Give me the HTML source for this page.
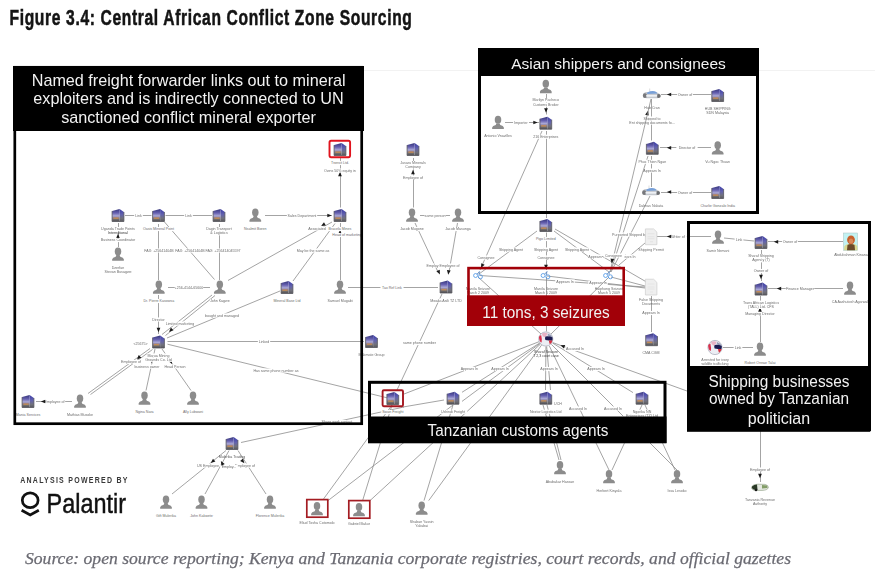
<!DOCTYPE html><html><head><meta charset="utf-8"><style>
html,body{margin:0;padding:0;background:#fff;}
body{width:886px;height:581px;overflow:hidden;position:relative;}
svg{position:absolute;left:0;top:0;filter:blur(0.35px);font-family:"Liberation Sans",sans-serif;}
svg.crisp{filter:none;}
</style></head><body>
<svg width="886" height="581" viewBox="0 0 886 581">
<defs>
<linearGradient id="gf" x1="0" y1="0" x2="0" y2="1">
<stop offset="0" stop-color="#35357a"/><stop offset="0.32" stop-color="#6660b0"/><stop offset="0.55" stop-color="#aaa8d6"/><stop offset="0.68" stop-color="#8c80a0"/><stop offset="0.82" stop-color="#74706e"/><stop offset="1" stop-color="#4c4c54"/></linearGradient>
<linearGradient id="gs" x1="0" y1="0" x2="0" y2="1">
<stop offset="0" stop-color="#3c3ca8"/><stop offset="0.45" stop-color="#6464ae"/><stop offset="0.75" stop-color="#72727c"/><stop offset="1" stop-color="#58585e"/></linearGradient>
<radialGradient id="gg" cx="0.4" cy="0.35" r="0.7">
<stop offset="0" stop-color="#f4f0f4"/><stop offset="1" stop-color="#c8ccd8"/></radialGradient>
<symbol id="person" overflow="visible">
<ellipse cx="0" cy="-2.6" rx="3.25" ry="4" fill="#8c8c8c"/>
<path d="M-5.85,6.8 L-5.85,5.2 Q-5.5,3.3 -2.3,2.7 L-1.6,1.1 L1.6,1.1 L2.3,2.7 Q5.5,3.3 5.85,5.2 L5.85,6.8 Z" fill="#8c8c8c"/>
</symbol>
<symbol id="bld" overflow="visible">
<g transform="translate(0,0.4)"><path d="M-5.9,-4.3 L1.6,-6.4 L1.6,6.1 L-5.9,6.1 Z" fill="url(#gf)"/>
<path d="M1.6,-6.4 L5.9,-3.4 L5.9,6.1 L1.6,6.1 Z" fill="url(#gs)"/>
<path d="M-5.9,-4.3 L-5.9,6.1 L5.9,6.1 L5.9,-3.4" fill="none" stroke="#55555c" stroke-width="0.8"/>
<rect x="-4.6" y="2.0" width="5.2" height="1.5" fill="#d0904a" opacity="0.8"/></g>
</symbol>
<symbol id="ship" overflow="visible">
<path d="M-8.8,1 Q-8.5,-2 -5,-2.4 L5,-2.2 Q8.5,-1 9,1.5 Q8,3.8 4,3.8 L-5,3.8 Q-8.8,3.5 -8.8,1 Z" fill="#c4c8ce"/>
<ellipse cx="-6.8" cy="1.2" rx="2.1" ry="2.4" fill="#5e5e60" opacity="0.75"/>
<ellipse cx="7" cy="1.6" rx="2" ry="2" fill="#505052" opacity="0.75"/>
<path d="M-4.5,-2 Q-1,-4 3,-3.3 Q5,-2.7 5.6,-1 L-4.5,-0.4 Z" fill="#78a0d8"/>
<rect x="-5.5" y="0.4" width="11" height="1.8" fill="#eef0f4"/>
<line x1="-2" y1="-6" x2="-2" y2="-3.5" stroke="#bbb" stroke-width="0.5"/>
</symbol>
<symbol id="doc" overflow="visible">
<path d="M-5.6,-7.8 L2.6,-7.8 L5.9,-4.6 L5.9,8 L-5.6,8 Z" fill="#efefef" stroke="#cfcfcf" stroke-width="0.7"/>
<path d="M-3.5,-3 H3.5 M-3.5,0 H3.5 M-3.5,2 H3.5 M-1,5 H2" stroke="#dadada" stroke-width="0.5"/>
</symbol>
<symbol id="globe" overflow="visible">
<circle cx="0" cy="0" r="7.1" fill="#eceef4" stroke="#a4a6b4" stroke-width="0.7"/>
<path d="M-6.9,-2 Q-6,-4 -4.6,-3.8 Q-3.6,0 -4.2,3.6 Q-6.4,3.2 -6.9,-2 Z" fill="#d8304c"/>
<path d="M-4,-5.6 Q-1,-6.8 1.6,-5.8 Q1.2,-3 -1.5,-1.8 Q-3.6,-2.6 -4,-5.6 Z" fill="#e8a8bc" opacity="0.85"/>
<path d="M2,-5.6 Q5.6,-4.6 6.6,-2 L6,-0.5 Q3,-2.5 1.8,-3.5 Z" fill="#8088a8" opacity="0.8"/>
<path d="M-0.4,-2.4 Q3,-3.2 6.8,-1.4 Q7,1.2 6.2,1.8 Q3,1.4 -0.4,1 Q-1.2,-0.6 -0.4,-2.4 Z" fill="#1c1c52"/>
<path d="M3,1.6 Q5.4,1.6 6.6,1.4 Q6.2,4 4,5.2 Q3.2,3.4 3,1.6 Z" fill="#d83040"/>
</symbol>
<symbol id="seize" overflow="visible">
<circle cx="-2.9" cy="0" r="2" fill="none" stroke="#4a94e4" stroke-width="0.8"/>
<circle cx="1.9" cy="1.3" r="2" fill="none" stroke="#4a94e4" stroke-width="0.8"/>
<path d="M-1.5,-1.3 L1.2,-4 M0.5,-0.6 L0.8,-4" stroke="#4a7ab8" stroke-width="0.8"/>
</symbol>
</defs>

<path d="M364,70.5 H875" stroke="#f2f2f2" stroke-width="1"/>
<line x1="125" y1="215.5" x2="151.5" y2="215.5" stroke="#858585" stroke-width="0.75"/>
<rect x="134.15" y="213.94" width="8.7" height="4.14" fill="#fff"/>
<text x="138.5" y="217" font-size="3.6" fill="#6c6c6c" text-anchor="middle">Link</text>
<line x1="165.5" y1="215.5" x2="212" y2="215.5" stroke="#858585" stroke-width="0.75"/>
<rect x="184.15" y="213.94" width="8.7" height="4.14" fill="#fff"/>
<text x="188.5" y="217" font-size="3.6" fill="#6c6c6c" text-anchor="middle">Link</text>
<line x1="158.5" y1="224" x2="158.5" y2="280" stroke="#858585" stroke-width="0.75"/>
<line x1="164.5" y1="222" x2="214.5" y2="279.5" stroke="#858585" stroke-width="0.75"/>
<line x1="219.5" y1="224" x2="219.5" y2="280" stroke="#858585" stroke-width="0.75"/>
<rect x="144.75" y="248.44" width="28.5" height="4.14" fill="#fff"/>
<text x="159" y="251.5" font-size="3.6" fill="#6c6c6c" text-anchor="middle">FAX: +25641404B</text>
<rect x="175.75" y="248.44" width="28.5" height="4.14" fill="#fff"/>
<text x="190" y="251.5" font-size="3.6" fill="#6c6c6c" text-anchor="middle">FAX: +25641404B</text>
<rect x="206.05" y="248.44" width="33.9" height="4.14" fill="#fff"/>
<text x="223" y="251.5" font-size="3.6" fill="#6c6c6c" text-anchor="middle">FAX: +256414045597</text>
<line x1="168" y1="287.5" x2="210" y2="287.5" stroke="#858585" stroke-width="0.75"/>
<rect x="174.75" y="285.94" width="28.5" height="4.14" fill="#fff"/>
<text x="189" y="289" font-size="3.6" fill="#6c6c6c" text-anchor="middle">+256-4144-65600</text>
<line x1="265" y1="215.5" x2="332" y2="215.5" stroke="#858585" stroke-width="0.75"/>
<rect x="286.85" y="213.94" width="30.3" height="4.14" fill="#fff"/>
<text x="302" y="217" font-size="3.6" fill="#6c6c6c" text-anchor="middle">Sales Department</text>
<path d="M2.2,0 L-2.2,-1.87 L-2.2,1.87 Z" fill="#1a1a1a" transform="translate(329.5,215.5) rotate(0)"/>
<line x1="340.5" y1="158" x2="340.5" y2="207.5" stroke="#858585" stroke-width="0.75"/>
<path d="M2.2,0 L-2.2,-1.87 L-2.2,1.87 Z" fill="#1a1a1a" transform="translate(340,174) rotate(-90)"/>
<rect x="323.05" y="168.44" width="33.9" height="4.14" fill="#fff"/>
<text x="340" y="171.5" font-size="3.6" fill="#6c6c6c" text-anchor="middle">Owns 50% equity in</text>
<line x1="118.5" y1="223" x2="118.5" y2="247" stroke="#858585" stroke-width="0.75"/>
<path d="M2.2,0 L-2.2,-1.87 L-2.2,1.87 Z" fill="#1a1a1a" transform="translate(118,236) rotate(-90)"/>
<rect x="99.25" y="237.94" width="37.5" height="4.14" fill="#fff"/>
<text x="118" y="241" font-size="3.6" fill="#6c6c6c" text-anchor="middle">Business Coordinator</text>
<text x="118" y="234" font-size="3.6" fill="#333" text-anchor="middle">International</text>
<line x1="228" y1="280.5" x2="332" y2="222" stroke="#858585" stroke-width="0.75"/>
<line x1="293" y1="281" x2="335" y2="223.5" stroke="#858585" stroke-width="0.75"/>
<path d="M2.2,0 L-2.2,-1.87 L-2.2,1.87 Z" fill="#1a1a1a" transform="translate(323,225) rotate(150)"/>
<rect x="307.25" y="226.44" width="19.5" height="4.14" fill="#fff"/>
<text x="317" y="229.5" font-size="3.6" fill="#6c6c6c" text-anchor="middle">Associated</text>
<rect x="296.05" y="248.44" width="33.9" height="4.14" fill="#fff"/>
<text x="313" y="251.5" font-size="3.6" fill="#6c6c6c" text-anchor="middle">May be the same as</text>
<line x1="340.5" y1="223" x2="340.5" y2="280" stroke="#858585" stroke-width="0.75"/>
<path d="M2.2,0 L-2.2,-1.87 L-2.2,1.87 Z" fill="#1a1a1a" transform="translate(340,232) rotate(-90)"/>
<rect x="330.95" y="232.94" width="32.1" height="4.14" fill="#fff"/>
<text x="347" y="236" font-size="3.6" fill="#6c6c6c" text-anchor="middle">Head of marketing</text>
<line x1="158.5" y1="295" x2="158.5" y2="334" stroke="#858585" stroke-width="0.75"/>
<path d="M2.2,0 L-2.2,-1.87 L-2.2,1.87 Z" fill="#1a1a1a" transform="translate(158.5,330) rotate(90)"/>
<rect x="150.55" y="317.44" width="15.9" height="4.14" fill="#fff"/>
<text x="158.5" y="320.5" font-size="3.6" fill="#6c6c6c" text-anchor="middle">Director</text>
<line x1="212" y1="295" x2="162" y2="334.5" stroke="#858585" stroke-width="0.75"/>
<line x1="215" y1="295.5" x2="165.5" y2="335.5" stroke="#858585" stroke-width="0.75"/>
<path d="M2.2,0 L-2.2,-1.87 L-2.2,1.87 Z" fill="#1a1a1a" transform="translate(170.6,330.5) rotate(135)"/>
<rect x="163.95" y="321.44" width="32.1" height="4.14" fill="#fff"/>
<text x="180" y="324.5" font-size="3.6" fill="#6c6c6c" text-anchor="middle">Limited marketing</text>
<line x1="88" y1="393.5" x2="150" y2="348.5" stroke="#858585" stroke-width="0.75"/>
<line x1="90.5" y1="394.5" x2="152.5" y2="349.5" stroke="#858585" stroke-width="0.75"/>
<path d="M2.2,0 L-2.2,-1.87 L-2.2,1.87 Z" fill="#1a1a1a" transform="translate(138.5,358) rotate(135)"/>
<rect x="120.35" y="359.94" width="21.3" height="4.14" fill="#fff"/>
<text x="131" y="363" font-size="3.6" fill="#6c6c6c" text-anchor="middle">Employee of</text>
<text x="140.5" y="344.5" font-size="3.6" fill="#6c6c6c" text-anchor="middle">&lt;25675&gt;</text>
<line x1="167" y1="338" x2="280" y2="291" stroke="#858585" stroke-width="0.75"/>
<rect x="205.05" y="313.44" width="33.9" height="4.14" fill="#fff"/>
<text x="222" y="316.5" font-size="3.6" fill="#6c6c6c" text-anchor="middle">bought and managed</text>
<line x1="167.5" y1="341.5" x2="364" y2="341.5" stroke="#858585" stroke-width="0.75"/>
<rect x="257.85" y="339.94" width="12.3" height="4.14" fill="#fff"/>
<text x="264" y="343" font-size="3.6" fill="#6c6c6c" text-anchor="middle">Linked</text>
<line x1="167.5" y1="344.2" x2="392" y2="399" stroke="#858585" stroke-width="0.75"/>
<rect x="253.65" y="368.44" width="44.7" height="4.14" fill="#fff"/>
<text x="276" y="371.5" font-size="3.6" fill="#6c6c6c" text-anchor="middle">Has same phone number as</text>
<line x1="155" y1="349" x2="146" y2="390.5" stroke="#858585" stroke-width="0.75"/>
<line x1="162" y1="349" x2="191" y2="390.5" stroke="#858585" stroke-width="0.75"/>
<path d="M2.2,0 L-2.2,-1.87 L-2.2,1.87 Z" fill="#1a1a1a" transform="translate(152,361) rotate(110)"/>
<path d="M2.2,0 L-2.2,-1.87 L-2.2,1.87 Z" fill="#1a1a1a" transform="translate(171,362) rotate(60)"/>
<rect x="133.65" y="364.44" width="26.7" height="4.14" fill="#fff"/>
<text x="147" y="367.5" font-size="3.6" fill="#6c6c6c" text-anchor="middle">business owner</text>
<rect x="164.35" y="364.44" width="21.3" height="4.14" fill="#fff"/>
<text x="175" y="367.5" font-size="3.6" fill="#6c6c6c" text-anchor="middle">Head Person</text>
<line x1="36" y1="401.5" x2="72" y2="401.5" stroke="#858585" stroke-width="0.75"/>
<rect x="43.85" y="399.94" width="21.3" height="4.14" fill="#fff"/>
<text x="54.5" y="403" font-size="3.6" fill="#6c6c6c" text-anchor="middle">Employee of</text>
<path d="M2.2,0 L-2.2,-1.87 L-2.2,1.87 Z" fill="#1a1a1a" transform="translate(43,401.5) rotate(180)"/>
<line x1="348" y1="287.5" x2="438" y2="287.5" stroke="#858585" stroke-width="0.75"/>
<rect x="380.45" y="285.94" width="23.1" height="4.14" fill="#fff"/>
<text x="392" y="289" font-size="3.6" fill="#6c6c6c" text-anchor="middle">Tax Ref Link</text>
<line x1="413.5" y1="158" x2="413.5" y2="207.5" stroke="#858585" stroke-width="0.75"/>
<path d="M2.2,0 L-2.2,-1.87 L-2.2,1.87 Z" fill="#1a1a1a" transform="translate(413,172) rotate(-90)"/>
<rect x="402.35" y="175.44" width="21.3" height="4.14" fill="#fff"/>
<text x="413" y="178.5" font-size="3.6" fill="#6c6c6c" text-anchor="middle">Employee of</text>
<line x1="420" y1="215.5" x2="450" y2="215.5" stroke="#858585" stroke-width="0.75"/>
<rect x="424.35" y="213.94" width="21.3" height="4.14" fill="#fff"/>
<text x="435" y="217" font-size="3.6" fill="#6c6c6c" text-anchor="middle">same person</text>
<line x1="415" y1="223" x2="438" y2="272" stroke="#858585" stroke-width="0.75"/>
<line x1="457.5" y1="223" x2="449" y2="272" stroke="#858585" stroke-width="0.75"/>
<path d="M2.2,0 L-2.2,-1.87 L-2.2,1.87 Z" fill="#1a1a1a" transform="translate(439,272.5) rotate(65)"/>
<path d="M2.2,0 L-2.2,-1.87 L-2.2,1.87 Z" fill="#1a1a1a" transform="translate(448.5,272.5) rotate(98)"/>
<rect x="426.05" y="263.44" width="33.9" height="4.14" fill="#fff"/>
<text x="443" y="266.5" font-size="3.6" fill="#6c6c6c" text-anchor="middle">Employ Employee of</text>
<line x1="442" y1="294" x2="397" y2="390" stroke="#858585" stroke-width="0.75"/>
<rect x="403.45" y="340.94" width="32.1" height="4.14" fill="#fff"/>
<text x="419.5" y="344" font-size="3.6" fill="#6c6c6c" text-anchor="middle">same phone number</text>
<line x1="505" y1="122.5" x2="539" y2="122.5" stroke="#858585" stroke-width="0.75"/>
<rect x="513.05" y="120.94" width="15.9" height="4.14" fill="#fff"/>
<text x="521" y="124" font-size="3.6" fill="#6c6c6c" text-anchor="middle">Importer</text>
<path d="M2.2,0 L-2.2,-1.87 L-2.2,1.87 Z" fill="#1a1a1a" transform="translate(535.5,122.5) rotate(0)"/>
<line x1="546.5" y1="94" x2="546.5" y2="114.5" stroke="#858585" stroke-width="0.75"/>
<path d="M2.2,0 L-2.2,-1.87 L-2.2,1.87 Z" fill="#1a1a1a" transform="translate(546,110.5) rotate(90)"/>
<line x1="661" y1="94.5" x2="711" y2="94.5" stroke="#858585" stroke-width="0.75"/>
<rect x="677.05" y="92.94" width="15.9" height="4.14" fill="#fff"/>
<text x="685" y="96" font-size="3.6" fill="#6c6c6c" text-anchor="middle">Owner of</text>
<path d="M2.2,0 L-2.2,-1.87 L-2.2,1.87 Z" fill="#1a1a1a" transform="translate(669,94.5) rotate(180)"/>
<line x1="660" y1="147.5" x2="711" y2="147.5" stroke="#858585" stroke-width="0.75"/>
<rect x="676.35" y="146.24" width="21.3" height="4.14" fill="#fff"/>
<text x="687" y="149.3" font-size="3.6" fill="#6c6c6c" text-anchor="middle">Director of</text>
<path d="M2.2,0 L-2.2,-1.87 L-2.2,1.87 Z" fill="#1a1a1a" transform="translate(669,147.8) rotate(180)"/>
<line x1="661" y1="192.5" x2="711" y2="192.5" stroke="#858585" stroke-width="0.75"/>
<rect x="677.05" y="190.44" width="15.9" height="4.14" fill="#fff"/>
<text x="685" y="193.5" font-size="3.6" fill="#6c6c6c" text-anchor="middle">Owner of</text>
<path d="M2.2,0 L-2.2,-1.87 L-2.2,1.87 Z" fill="#1a1a1a" transform="translate(669,192) rotate(180)"/>
<line x1="651.5" y1="99" x2="651.5" y2="140.5" stroke="#858585" stroke-width="0.75"/>
<path d="M2.2,0 L-2.2,-1.87 L-2.2,1.87 Z" fill="#1a1a1a" transform="translate(647.5,113) rotate(-75)"/>
<rect x="642.25" y="116.44" width="19.5" height="4.14" fill="#fff"/>
<text x="652" y="119.5" font-size="3.6" fill="#6c6c6c" text-anchor="middle">Shipped to</text>
<rect x="626.05" y="120.44" width="51.9" height="4.14" fill="#fff"/>
<text x="652" y="123.5" font-size="3.6" fill="#6c6c6c" text-anchor="middle">Ent shipping documents fo...</text>
<line x1="651.5" y1="156" x2="651.5" y2="187" stroke="#858585" stroke-width="0.75"/>
<rect x="642.25" y="168.44" width="19.5" height="4.14" fill="#fff"/>
<text x="652" y="171.5" font-size="3.6" fill="#6c6c6c" text-anchor="middle">Appears In</text>
<line x1="542" y1="131" x2="480" y2="270" stroke="#858585" stroke-width="0.75"/>
<line x1="546.5" y1="131" x2="546.5" y2="218" stroke="#858585" stroke-width="0.75"/>
<line x1="651" y1="99" x2="610" y2="272" stroke="#858585" stroke-width="0.75"/>
<line x1="648" y1="156" x2="610.5" y2="272" stroke="#858585" stroke-width="0.75"/>
<line x1="650" y1="196" x2="611" y2="272" stroke="#858585" stroke-width="0.75"/>
<line x1="546.5" y1="232.5" x2="546.5" y2="270" stroke="#858585" stroke-width="0.75"/>
<path d="M2.2,0 L-2.2,-1.87 L-2.2,1.87 Z" fill="#1a1a1a" transform="translate(546,267) rotate(90)"/>
<rect x="532.65" y="247.44" width="26.7" height="4.14" fill="#fff"/>
<text x="546" y="250.5" font-size="3.6" fill="#6c6c6c" text-anchor="middle">Shipping Agent</text>
<rect x="537.15" y="255.44" width="17.7" height="4.14" fill="#fff"/>
<text x="546" y="258.5" font-size="3.6" fill="#6c6c6c" text-anchor="middle">Consignee</text>
<rect x="477.15" y="255.44" width="17.7" height="4.14" fill="#fff"/>
<text x="486" y="258.5" font-size="3.6" fill="#6c6c6c" text-anchor="middle">Consignee</text>
<path d="M2.2,0 L-2.2,-1.87 L-2.2,1.87 Z" fill="#1a1a1a" transform="translate(482,266) rotate(115)"/>
<line x1="537" y1="231" x2="479" y2="274" stroke="#858585" stroke-width="0.75"/>
<rect x="497.65" y="247.44" width="26.7" height="4.14" fill="#fff"/>
<text x="511" y="250.5" font-size="3.6" fill="#6c6c6c" text-anchor="middle">Shipping Agent</text>
<line x1="554" y1="231" x2="609" y2="272" stroke="#858585" stroke-width="0.75"/>
<line x1="555" y1="229" x2="650" y2="284" stroke="#858585" stroke-width="0.75"/>
<rect x="563.65" y="247.44" width="26.7" height="4.14" fill="#fff"/>
<text x="577" y="250.5" font-size="3.6" fill="#6c6c6c" text-anchor="middle">Shipping Agent</text>
<rect x="587.95" y="254.44" width="14.1" height="4.14" fill="#fff"/>
<text x="595" y="257.5" font-size="3.6" fill="#6c6c6c" text-anchor="middle">Appears</text>
<rect x="603.95" y="253.44" width="23.1" height="4.14" fill="#fff"/>
<text x="615.5" y="256.5" font-size="3.6" fill="#6c6c6c" text-anchor="middle">Consignee of</text>
<path d="M2.2,0 L-2.2,-1.87 L-2.2,1.87 Z" fill="#1a1a1a" transform="translate(612,261) rotate(100)"/>
<line x1="645" y1="243" x2="619" y2="265" stroke="#858585" stroke-width="0.75"/>
<rect x="622.95" y="254.44" width="14.1" height="4.14" fill="#fff"/>
<text x="630" y="257.5" font-size="3.6" fill="#6c6c6c" text-anchor="middle">ears In</text>
<rect x="610.75" y="232.44" width="37.5" height="4.14" fill="#fff"/>
<text x="629.5" y="235.5" font-size="3.6" fill="#6c6c6c" text-anchor="middle">Purported Shipped by</text>
<line x1="657" y1="236.5" x2="711" y2="236.5" stroke="#858585" stroke-width="0.75"/>
<rect x="669.15" y="234.94" width="17.7" height="4.14" fill="#fff"/>
<text x="678" y="238" font-size="3.6" fill="#6c6c6c" text-anchor="middle">Writer of</text>
<path d="M2.2,0 L-2.2,-1.87 L-2.2,1.87 Z" fill="#1a1a1a" transform="translate(669,236.5) rotate(180)"/>
<text x="651" y="250.5" font-size="3.6" fill="#6c6c6c" text-anchor="middle">Shipping Permit</text>
<line x1="480" y1="275.5" x2="645" y2="287" stroke="#858585" stroke-width="0.75"/>
<line x1="547" y1="276" x2="645" y2="288" stroke="#858585" stroke-width="0.75"/>
<line x1="611" y1="277" x2="645" y2="286" stroke="#858585" stroke-width="0.75"/>
<rect x="555.25" y="279.44" width="19.5" height="4.14" fill="#fff"/>
<text x="565" y="282.5" font-size="3.6" fill="#6c6c6c" text-anchor="middle">Appears In</text>
<rect x="588.25" y="280.94" width="19.5" height="4.14" fill="#fff"/>
<text x="598" y="284" font-size="3.6" fill="#6c6c6c" text-anchor="middle">Appears In</text>
<text x="478" y="289.5" font-size="3.6" fill="#6c6c6c" text-anchor="middle">Manila Seizure</text>
<text x="478" y="293.5" font-size="3.6" fill="#6c6c6c" text-anchor="middle">March 2 2009</text>
<text x="546" y="289.5" font-size="3.6" fill="#6c6c6c" text-anchor="middle">Manila Seizure</text>
<text x="546" y="293.5" font-size="3.6" fill="#6c6c6c" text-anchor="middle">March 5 2009</text>
<text x="609" y="289.5" font-size="3.6" fill="#6c6c6c" text-anchor="middle">Haiphong Seizure</text>
<text x="609" y="293.5" font-size="3.6" fill="#6c6c6c" text-anchor="middle">March 5 2009</text>
<line x1="478" y1="277" x2="541" y2="334" stroke="#858585" stroke-width="0.75"/>
<line x1="546.5" y1="277" x2="546.5" y2="331.5" stroke="#858585" stroke-width="0.75"/>
<line x1="609" y1="277" x2="551" y2="334" stroke="#858585" stroke-width="0.75"/>
<line x1="651.5" y1="296" x2="651.5" y2="332" stroke="#858585" stroke-width="0.75"/>
<text x="651" y="301" font-size="3.6" fill="#6c6c6c" text-anchor="middle">False Shipping</text>
<text x="651" y="305.3" font-size="3.6" fill="#6c6c6c" text-anchor="middle">Documents</text>
<rect x="641.25" y="310.94" width="19.5" height="4.14" fill="#fff"/>
<text x="651" y="314" font-size="3.6" fill="#6c6c6c" text-anchor="middle">Appears In</text>
<text x="651" y="354" font-size="3.6" fill="#6c6c6c" text-anchor="middle">CMA CGM</text>
<line x1="539.01" y1="341.71" x2="404" y2="394" stroke="#858585" stroke-width="0.75"/>
<line x1="539.67" y1="343.02" x2="462" y2="392.3" stroke="#858585" stroke-width="0.75"/>
<line x1="539.98" y1="343.47" x2="462" y2="401.4" stroke="#858585" stroke-width="0.75"/>
<line x1="540.48" y1="344.07" x2="370" y2="500.6" stroke="#858585" stroke-width="0.75"/>
<line x1="541.59" y1="345.07" x2="428.7" y2="500.6" stroke="#858585" stroke-width="0.75"/>
<line x1="545.93" y1="346.5" x2="545.5" y2="390" stroke="#858585" stroke-width="0.75"/>
<line x1="546.66" y1="346.47" x2="550.5" y2="390" stroke="#858585" stroke-width="0.75"/>
<line x1="549.25" y1="345.76" x2="609" y2="470" stroke="#858585" stroke-width="0.75"/>
<line x1="551.3" y1="344.3" x2="677" y2="470" stroke="#858585" stroke-width="0.75"/>
<line x1="552.39" y1="342.93" x2="633" y2="392.6" stroke="#858585" stroke-width="0.75"/>
<line x1="553" y1="342.7" x2="687" y2="391" stroke="#858585" stroke-width="0.75"/>
<path d="M2.2,0 L-2.2,-1.87 L-2.2,1.87 Z" fill="#1a1a1a" transform="translate(562.5,346) rotate(200)"/>
<rect x="565.25" y="346.94" width="19.5" height="4.14" fill="#fff"/>
<text x="575" y="350" font-size="3.6" fill="#6c6c6c" text-anchor="middle">Accused In</text>
<rect x="459.65" y="366.94" width="19.5" height="4.14" fill="#fff"/>
<text x="469.4" y="370" font-size="3.6" fill="#6c6c6c" text-anchor="middle">Appears In</text>
<rect x="490.25" y="366.94" width="19.5" height="4.14" fill="#fff"/>
<text x="500" y="370" font-size="3.6" fill="#6c6c6c" text-anchor="middle">Appears In</text>
<rect x="539.25" y="366.94" width="19.5" height="4.14" fill="#fff"/>
<text x="549" y="370" font-size="3.6" fill="#6c6c6c" text-anchor="middle">Appears In</text>
<rect x="586.25" y="366.94" width="19.5" height="4.14" fill="#fff"/>
<text x="596" y="370" font-size="3.6" fill="#6c6c6c" text-anchor="middle">Appears In</text>
<text x="546" y="352.5" font-size="3.6" fill="#444" text-anchor="middle">Sharaf Seizure</text>
<text x="546" y="356.8" font-size="3.6" fill="#444" text-anchor="middle">T 2,3 court case</text>
<rect x="568.25" y="406.44" width="19.5" height="4.14" fill="#fff"/>
<text x="578" y="409.5" font-size="3.6" fill="#6c6c6c" text-anchor="middle">Accused In</text>
<rect x="603.25" y="406.44" width="19.5" height="4.14" fill="#fff"/>
<text x="613" y="409.5" font-size="3.6" fill="#6c6c6c" text-anchor="middle">Accused In</text>
<line x1="403" y1="407" x2="444" y2="400" stroke="#858585" stroke-width="0.75"/>
<line x1="392" y1="405" x2="323.5" y2="499" stroke="#858585" stroke-width="0.75"/>
<line x1="453" y1="405" x2="328" y2="500.6" stroke="#858585" stroke-width="0.75"/>
<line x1="392" y1="405" x2="362.6" y2="500.6" stroke="#858585" stroke-width="0.75"/>
<line x1="453" y1="405" x2="424" y2="500.6" stroke="#858585" stroke-width="0.75"/>
<line x1="543" y1="405" x2="559" y2="460" stroke="#858585" stroke-width="0.75"/>
<line x1="547" y1="405" x2="561" y2="460" stroke="#858585" stroke-width="0.75"/>
<line x1="642" y1="405" x2="612" y2="470" stroke="#858585" stroke-width="0.75"/>
<line x1="645" y1="405" x2="675" y2="470" stroke="#858585" stroke-width="0.75"/>
<line x1="241" y1="442.5" x2="404" y2="407" stroke="#858585" stroke-width="0.75"/>
<rect x="320.05" y="419.94" width="33.9" height="4.14" fill="#fff"/>
<text x="337" y="423" font-size="3.6" fill="#6c6c6c" text-anchor="middle">Share work contact</text>
<line x1="226" y1="450.5" x2="172" y2="494" stroke="#858585" stroke-width="0.75"/>
<line x1="229" y1="450.5" x2="205" y2="494" stroke="#858585" stroke-width="0.75"/>
<line x1="238" y1="450.5" x2="266" y2="494" stroke="#858585" stroke-width="0.75"/>
<text x="232" y="458" font-size="3.6" fill="#555" text-anchor="middle">Mulerika Trading</text>
<rect x="197.35" y="463.44" width="21.3" height="4.14" fill="#fff"/>
<text x="208" y="466.5" font-size="3.6" fill="#6c6c6c" text-anchor="middle">US Employee</text>
<rect x="234.35" y="463.44" width="21.3" height="4.14" fill="#fff"/>
<text x="245" y="466.5" font-size="3.6" fill="#6c6c6c" text-anchor="middle">Employee of</text>
<rect x="220.15" y="464.94" width="17.7" height="4.14" fill="#fff"/>
<text x="229" y="468" font-size="3.6" fill="#6c6c6c" text-anchor="middle">Employ...</text>
<path d="M2.2,0 L-2.2,-1.87 L-2.2,1.87 Z" fill="#1a1a1a" transform="translate(212.5,461.5) rotate(140)"/>
<path d="M2.2,0 L-2.2,-1.87 L-2.2,1.87 Z" fill="#1a1a1a" transform="translate(222,463) rotate(-120)"/>
<path d="M2.2,0 L-2.2,-1.87 L-2.2,1.87 Z" fill="#1a1a1a" transform="translate(243,461.5) rotate(50)"/>
<line x1="724" y1="238" x2="754" y2="241" stroke="#858585" stroke-width="0.75"/>
<rect x="734.65" y="237.94" width="8.7" height="4.14" fill="#fff"/>
<text x="739" y="241" font-size="3.6" fill="#6c6c6c" text-anchor="middle">Link</text>
<line x1="768" y1="241.5" x2="843" y2="241.5" stroke="#858585" stroke-width="0.75"/>
<rect x="782.05" y="240.24" width="15.9" height="4.14" fill="#fff"/>
<text x="790" y="243.3" font-size="3.6" fill="#6c6c6c" text-anchor="middle">Owner of</text>
<path d="M2.2,0 L-2.2,-1.87 L-2.2,1.87 Z" fill="#1a1a1a" transform="translate(776,241.8) rotate(180)"/>
<line x1="761.5" y1="250" x2="761.5" y2="281" stroke="#858585" stroke-width="0.75"/>
<rect x="753.05" y="268.94" width="15.9" height="4.14" fill="#fff"/>
<text x="761" y="272" font-size="3.6" fill="#6c6c6c" text-anchor="middle">Owner of</text>
<path d="M2.2,0 L-2.2,-1.87 L-2.2,1.87 Z" fill="#1a1a1a" transform="translate(761,277) rotate(90)"/>
<line x1="768" y1="288.5" x2="843" y2="288.5" stroke="#858585" stroke-width="0.75"/>
<rect x="785.75" y="286.94" width="28.5" height="4.14" fill="#fff"/>
<text x="800" y="290" font-size="3.6" fill="#6c6c6c" text-anchor="middle">Finance Manager</text>
<path d="M2.2,0 L-2.2,-1.87 L-2.2,1.87 Z" fill="#1a1a1a" transform="translate(779,288.6) rotate(180)"/>
<line x1="760.5" y1="296" x2="760.5" y2="342" stroke="#858585" stroke-width="0.75"/>
<path d="M2.2,0 L-2.2,-1.87 L-2.2,1.87 Z" fill="#1a1a1a" transform="translate(760,309.5) rotate(-90)"/>
<rect x="743.95" y="311.94" width="32.1" height="4.14" fill="#fff"/>
<text x="760" y="315" font-size="3.6" fill="#6c6c6c" text-anchor="middle">Managing Director</text>
<line x1="723" y1="347.5" x2="753" y2="347.5" stroke="#858585" stroke-width="0.75"/>
<rect x="733.65" y="345.94" width="8.7" height="4.14" fill="#fff"/>
<text x="738" y="349" font-size="3.6" fill="#6c6c6c" text-anchor="middle">Link</text>
<line x1="760.5" y1="431" x2="760.5" y2="482" stroke="#858585" stroke-width="0.75"/>
<path d="M2.2,0 L-2.2,-1.87 L-2.2,1.87 Z" fill="#1a1a1a" transform="translate(760,476) rotate(90)"/>
<rect x="749.35" y="467.44" width="21.3" height="4.14" fill="#fff"/>
<text x="760" y="470.5" font-size="3.6" fill="#6c6c6c" text-anchor="middle">Employee of</text>
<text x="760" y="500.5" font-size="3.6" fill="#6c6c6c" text-anchor="middle">Tanzania Revenue</text>
<text x="760" y="504.8" font-size="3.6" fill="#6c6c6c" text-anchor="middle">Authority</text>
<use href="#bld" x="340" y="149"/>
<rect x="328.45" y="160.94" width="23.1" height="4.14" fill="#fff"/>
<text x="340" y="164" font-size="3.6" fill="#6c6c6c" text-anchor="middle">Tronsit Ltd.</text>
<rect x="329.5" y="140.8" width="20.6" height="16.4" rx="1.6" fill="none" stroke="#e0141e" stroke-width="1.9"/>
<use href="#bld" x="118" y="215"/>
<rect x="100.15" y="226.94" width="35.7" height="4.14" fill="#fff"/>
<text x="118" y="230" font-size="3.6" fill="#6c6c6c" text-anchor="middle">Uganda Trade Points</text>
<use href="#bld" x="158.5" y="215"/>
<rect x="140.65" y="226.94" width="35.7" height="4.14" fill="#fff"/>
<text x="158.5" y="230" font-size="3.6" fill="#6c6c6c" text-anchor="middle">Oasis Mineral Point</text>
<use href="#bld" x="219" y="215"/>
<rect x="204.75" y="226.94" width="28.5" height="4.14" fill="#fff"/>
<text x="219" y="230" font-size="3.6" fill="#6c6c6c" text-anchor="middle">Dagin Transport</text>
<rect x="204.75" y="231.24" width="28.5" height="4.14" fill="#fff"/>
<text x="219" y="234.3" font-size="3.6" fill="#6c6c6c" text-anchor="middle">&amp; Logistics</text>
<use href="#person" x="255.3" y="215"/>
<rect x="242.85" y="226.94" width="24.9" height="4.14" fill="#fff"/>
<text x="255.3" y="230" font-size="3.6" fill="#6c6c6c" text-anchor="middle">Nsalmit Boren</text>
<use href="#bld" x="340" y="215"/>
<rect x="327.55" y="226.94" width="24.9" height="4.14" fill="#fff"/>
<text x="340" y="230" font-size="3.6" fill="#6c6c6c" text-anchor="middle">Bracela Mines</text>
<use href="#person" x="118" y="254"/>
<rect x="110.95" y="265.94" width="14.1" height="4.14" fill="#fff"/>
<text x="118" y="269" font-size="3.6" fill="#6c6c6c" text-anchor="middle">Dzerfan</text>
<rect x="104.65" y="270.24" width="26.7" height="4.14" fill="#fff"/>
<text x="118" y="273.3" font-size="3.6" fill="#6c6c6c" text-anchor="middle">Stevan Busagwe</text>
<use href="#person" x="158.8" y="287"/>
<rect x="141.85" y="298.94" width="33.9" height="4.14" fill="#fff"/>
<text x="158.8" y="302" font-size="3.6" fill="#6c6c6c" text-anchor="middle">Dr. Pierre Kasowsa</text>
<use href="#person" x="219.8" y="287"/>
<rect x="210.05" y="298.94" width="19.5" height="4.14" fill="#fff"/>
<text x="219.8" y="302" font-size="3.6" fill="#6c6c6c" text-anchor="middle">John Kagwe</text>
<use href="#bld" x="287" y="287"/>
<rect x="271.85" y="298.94" width="30.3" height="4.14" fill="#fff"/>
<text x="287" y="302" font-size="3.6" fill="#6c6c6c" text-anchor="middle">Mineral Base Ltd</text>
<use href="#person" x="340" y="287"/>
<rect x="327.55" y="298.94" width="24.9" height="4.14" fill="#fff"/>
<text x="340" y="302" font-size="3.6" fill="#6c6c6c" text-anchor="middle">Samuel Mugabi</text>
<use href="#bld" x="158.5" y="341.5"/>
<rect x="146.95" y="353.44" width="23.1" height="4.14" fill="#fff"/>
<text x="158.5" y="356.5" font-size="3.6" fill="#6c6c6c" text-anchor="middle">Marua Mining</text>
<rect x="144.25" y="357.74" width="28.5" height="4.14" fill="#fff"/>
<text x="158.5" y="360.8" font-size="3.6" fill="#6c6c6c" text-anchor="middle">Grounds Co. Ltd</text>
<use href="#person" x="144.5" y="398"/>
<rect x="134.75" y="409.94" width="19.5" height="4.14" fill="#fff"/>
<text x="144.5" y="413" font-size="3.6" fill="#6c6c6c" text-anchor="middle">Ngina Nara</text>
<use href="#person" x="193" y="398"/>
<rect x="181.45" y="409.94" width="23.1" height="4.14" fill="#fff"/>
<text x="193" y="413" font-size="3.6" fill="#6c6c6c" text-anchor="middle">Ally Lubwani</text>
<use href="#bld" x="28" y="401"/>
<rect x="14.65" y="412.94" width="26.7" height="4.14" fill="#fff"/>
<text x="28" y="416" font-size="3.6" fill="#6c6c6c" text-anchor="middle">Mania Services</text>
<use href="#person" x="80" y="401"/>
<rect x="66.65" y="412.94" width="26.7" height="4.14" fill="#fff"/>
<text x="80" y="416" font-size="3.6" fill="#6c6c6c" text-anchor="middle">Mathias Musoke</text>
<use href="#bld" x="413" y="149"/>
<rect x="398.75" y="160.94" width="28.5" height="4.14" fill="#fff"/>
<text x="413" y="164" font-size="3.6" fill="#6c6c6c" text-anchor="middle">Jusaru Minerals</text>
<rect x="405.95" y="165.24" width="14.1" height="4.14" fill="#fff"/>
<text x="413" y="168.3" font-size="3.6" fill="#6c6c6c" text-anchor="middle">Company</text>
<use href="#person" x="412" y="215"/>
<rect x="400.45" y="226.94" width="23.1" height="4.14" fill="#fff"/>
<text x="412" y="230" font-size="3.6" fill="#6c6c6c" text-anchor="middle">Jacob Mugone</text>
<use href="#person" x="458" y="215"/>
<rect x="445.55" y="226.94" width="24.9" height="4.14" fill="#fff"/>
<text x="458" y="230" font-size="3.6" fill="#6c6c6c" text-anchor="middle">Jacob Masunga</text>
<use href="#bld" x="446" y="286.5"/>
<rect x="429.05" y="298.44" width="33.9" height="4.14" fill="#fff"/>
<text x="446" y="301.5" font-size="3.6" fill="#6c6c6c" text-anchor="middle">Mwaka Asili TZ LTD</text>
<use href="#bld" x="371.5" y="341"/>
<rect x="359.05" y="352.94" width="24.9" height="4.14" fill="#fff"/>
<text x="371.5" y="356" font-size="3.6" fill="#6c6c6c" text-anchor="middle">Makmate Group</text>
<use href="#person" x="545.8" y="86.4"/>
<rect x="531.55" y="98.34" width="28.5" height="4.14" fill="#fff"/>
<text x="545.8" y="101.4" font-size="3.6" fill="#6c6c6c" text-anchor="middle">Marilyn Pacheco</text>
<rect x="532.45" y="102.64" width="26.7" height="4.14" fill="#fff"/>
<text x="545.8" y="105.7" font-size="3.6" fill="#6c6c6c" text-anchor="middle">Customs Broker</text>
<use href="#person" x="498" y="122.3"/>
<rect x="481.95" y="134.24" width="32.1" height="4.14" fill="#fff"/>
<text x="498" y="137.3" font-size="3.6" fill="#6c6c6c" text-anchor="middle">Antonio Vnavilles</text>
<use href="#bld" x="545.8" y="122.7"/>
<rect x="531.55" y="134.64" width="28.5" height="4.14" fill="#fff"/>
<text x="545.8" y="137.7" font-size="3.6" fill="#6c6c6c" text-anchor="middle">216 Enterprises</text>
<use href="#ship" x="651.7" y="94.5"/>
<text x="652" y="109" font-size="3.6" fill="#6c6c6c" text-anchor="middle">Hub Cran</text>
<use href="#bld" x="717.7" y="95"/>
<rect x="706.15" y="106.94" width="23.1" height="4.14" fill="#fff"/>
<text x="717.7" y="110" font-size="3.6" fill="#6c6c6c" text-anchor="middle">HUB SHIPPING</text>
<rect x="706.15" y="111.24" width="23.1" height="4.14" fill="#fff"/>
<text x="717.7" y="114.3" font-size="3.6" fill="#6c6c6c" text-anchor="middle">SDN Malaysia</text>
<use href="#bld" x="652.3" y="147.8"/>
<rect x="638.05" y="159.74" width="28.5" height="4.14" fill="#fff"/>
<text x="652.3" y="162.8" font-size="3.6" fill="#6c6c6c" text-anchor="middle">Phuc Thien Ngan</text>
<use href="#person" x="717.7" y="147.8"/>
<rect x="705.25" y="159.74" width="24.9" height="4.14" fill="#fff"/>
<text x="717.7" y="162.8" font-size="3.6" fill="#6c6c6c" text-anchor="middle">Vu Ngoc Thuan</text>
<use href="#ship" x="651" y="191.5"/>
<text x="651" y="206.5" font-size="3.6" fill="#6c6c6c" text-anchor="middle">Dalmas Nakata</text>
<use href="#bld" x="717.7" y="192"/>
<rect x="698.05" y="203.94" width="39.3" height="4.14" fill="#fff"/>
<text x="717.7" y="207" font-size="3.6" fill="#6c6c6c" text-anchor="middle">Charlie Gonzalo India</text>
<use href="#bld" x="545.8" y="225"/>
<rect x="534.25" y="236.94" width="23.1" height="4.14" fill="#fff"/>
<text x="545.8" y="240" font-size="3.6" fill="#6c6c6c" text-anchor="middle">Pigo Limited</text>
<use href="#doc" x="651" y="236.7"/>
<use href="#doc" x="651" y="287"/>
<use href="#seize" x="608.5" y="275.5"/>
<use href="#seize" x="546" y="275.5"/>
<use href="#seize" x="478.5" y="275.5"/>
<use href="#bld" x="651.6" y="339.2"/>
<use href="#globe" x="545.8" y="339"/>
<use href="#person" x="718" y="237"/>
<rect x="706.45" y="248.94" width="23.1" height="4.14" fill="#fff"/>
<text x="718" y="252" font-size="3.6" fill="#6c6c6c" text-anchor="middle">Samir Nemani</text>
<use href="#bld" x="761" y="242"/>
<rect x="746.75" y="253.94" width="28.5" height="4.14" fill="#fff"/>
<text x="761" y="257" font-size="3.6" fill="#6c6c6c" text-anchor="middle">Sharaf Shipping</text>
<rect x="751.25" y="258.24" width="19.5" height="4.14" fill="#fff"/>
<text x="761" y="261.3" font-size="3.6" fill="#6c6c6c" text-anchor="middle">Agency (T)</text>
<rect x="843.5" y="233" width="14" height="17.3" fill="#c2f2f2" stroke="#a8c0c0" stroke-width="0.5"/>
<path d="M844,250.3 L844.5,246 Q846,244.5 848,244 L854,244 Q856,244.5 857.2,246 L857.5,250.3 Z" fill="#d8d890"/>
<path d="M847,250.3 L847.5,245 Q851,243 854.5,245 L855,250.3 Z" fill="#6a4a2a"/>
<ellipse cx="851" cy="239.8" rx="3.9" ry="4.4" fill="#c8602c"/>
<ellipse cx="851" cy="241.2" rx="2.2" ry="2.6" fill="#d88858"/>
<text x="851" y="256" font-size="3.6" fill="#6c6c6c" text-anchor="middle">Abdulrahman Kinana</text>
<use href="#bld" x="761" y="288.6"/>
<rect x="739.55" y="300.54" width="42.9" height="4.14" fill="#fff"/>
<text x="761" y="303.6" font-size="3.6" fill="#6c6c6c" text-anchor="middle">Trans African Logistics</text>
<rect x="746.75" y="304.84" width="28.5" height="4.14" fill="#fff"/>
<text x="761" y="307.9" font-size="3.6" fill="#6c6c6c" text-anchor="middle">(TALL) Ltd. CFS</text>
<use href="#person" x="850" y="288"/>
<rect x="831.25" y="299.94" width="37.5" height="4.14" fill="#fff"/>
<text x="850" y="303" font-size="3.6" fill="#6c6c6c" text-anchor="middle">CA Aashutosh Agarwal</text>
<use href="#globe" x="715" y="347.5"/>
<text x="715" y="361" font-size="3.6" fill="#6c6c6c" text-anchor="middle">Arrested for ivory</text>
<text x="715" y="365" font-size="3.6" fill="#6c6c6c" text-anchor="middle">wildlife trafficking</text>
<use href="#person" x="760" y="349"/>
<rect x="743.05" y="360.94" width="33.9" height="4.14" fill="#fff"/>
<text x="760" y="364" font-size="3.6" fill="#6c6c6c" text-anchor="middle">Robert Onnae Talai</text>
<use href="#bld" x="392.8" y="398"/>
<rect x="381.25" y="409.94" width="23.1" height="4.14" fill="#fff"/>
<text x="392.8" y="413" font-size="3.6" fill="#6c6c6c" text-anchor="middle">Swan Freight</text>
<rect x="382.6" y="390.3" width="20.4" height="15.9" rx="1.2" fill="none" stroke="#a41820" stroke-width="1.9"/>
<use href="#bld" x="453" y="397.7"/>
<rect x="438.75" y="409.64" width="28.5" height="4.14" fill="#fff"/>
<text x="453" y="412.7" font-size="3.6" fill="#6c6c6c" text-anchor="middle">Ushindi Freight</text>
<use href="#bld" x="545.8" y="397.7"/>
<rect x="527.05" y="409.64" width="37.5" height="4.14" fill="#fff"/>
<text x="545.8" y="412.7" font-size="3.6" fill="#6c6c6c" text-anchor="middle">Nextor Logistics Ltd</text>
<use href="#bld" x="642" y="397.7"/>
<rect x="632.25" y="409.64" width="19.5" height="4.14" fill="#fff"/>
<text x="642" y="412.7" font-size="3.6" fill="#6c6c6c" text-anchor="middle">Ngorika NN</text>
<rect x="623.25" y="413.94" width="37.5" height="4.14" fill="#fff"/>
<text x="642" y="417" font-size="3.6" fill="#6c6c6c" text-anchor="middle">Enterprises (TZ) Ltd</text>
<rect x="554.55" y="401.94" width="6.9" height="4.14" fill="#fff"/>
<text x="558" y="405" font-size="3.6" fill="#6c6c6c" text-anchor="middle">UCH</text>
<use href="#bld" x="232" y="443"/>
<use href="#person" x="166" y="502"/>
<rect x="153.55" y="513.94" width="24.9" height="4.14" fill="#fff"/>
<text x="166" y="517" font-size="3.6" fill="#6c6c6c" text-anchor="middle">Gift Mulerika</text>
<use href="#person" x="201.5" y="502"/>
<rect x="189.95" y="513.94" width="23.1" height="4.14" fill="#fff"/>
<text x="201.5" y="517" font-size="3.6" fill="#6c6c6c" text-anchor="middle">John Kakwete</text>
<use href="#person" x="270" y="502"/>
<rect x="253.95" y="513.94" width="32.1" height="4.14" fill="#fff"/>
<text x="270" y="517" font-size="3.6" fill="#6c6c6c" text-anchor="middle">Florence Mulerika</text>
<rect x="306.8" y="499.6" width="21" height="17.6" fill="#fff" stroke="#a41c22" stroke-width="1.7"/>
<use href="#person" x="317" y="508.5"/>
<rect x="298.25" y="520.44" width="37.5" height="4.14" fill="#fff"/>
<text x="317" y="523.5" font-size="3.6" fill="#6c6c6c" text-anchor="middle">Eliud Tosha Cotomolo</text>
<rect x="348.8" y="500.6" width="21" height="17.6" fill="#fff" stroke="#a41c22" stroke-width="1.7"/>
<use href="#person" x="359" y="509.5"/>
<rect x="346.55" y="521.44" width="24.9" height="4.14" fill="#fff"/>
<text x="359" y="524.5" font-size="3.6" fill="#6c6c6c" text-anchor="middle">Gabriel Bakur</text>
<use href="#person" x="421.7" y="508"/>
<rect x="409.25" y="519.94" width="24.9" height="4.14" fill="#fff"/>
<text x="421.7" y="523" font-size="3.6" fill="#6c6c6c" text-anchor="middle">Shaban Yassin</text>
<rect x="414.65" y="524.24" width="14.1" height="4.14" fill="#fff"/>
<text x="421.7" y="527.3" font-size="3.6" fill="#6c6c6c" text-anchor="middle">Yakubai</text>
<use href="#person" x="560" y="467.5"/>
<rect x="545.75" y="479.44" width="28.5" height="4.14" fill="#fff"/>
<text x="560" y="482.5" font-size="3.6" fill="#6c6c6c" text-anchor="middle">Abubakar Hassan</text>
<use href="#person" x="609" y="476.5"/>
<rect x="594.75" y="488.44" width="28.5" height="4.14" fill="#fff"/>
<text x="609" y="491.5" font-size="3.6" fill="#6c6c6c" text-anchor="middle">Herbert Kinyala</text>
<use href="#person" x="677" y="476.5"/>
<rect x="666.35" y="488.44" width="21.3" height="4.14" fill="#fff"/>
<text x="677" y="491.5" font-size="3.6" fill="#6c6c6c" text-anchor="middle">Issa Lesoko</text>
<path d="M751.5,487.5 Q752,484.5 758,484.2 L765,484.4 Q768.6,485.2 768.4,487.6 Q767.5,490.3 762,490.4 L756,490.4 Q751.6,490.2 751.5,487.5 Z" fill="#e4e8e0" stroke="#8a9a80" stroke-width="0.6"/><path d="M752,486.5 Q754,484.6 757,484.6 L757.5,490 Q753,490 752,488 Z" fill="#2a3a26"/><path d="M762,485 L767,485.6 L767.6,488 L762,488.6 Z" fill="#6a8a4a" opacity="0.8"/><circle cx="756" cy="490" r="1.3" fill="#1a1a1a"/>
<rect x="14.8" y="67.3" width="346.9" height="356.4" fill="none" stroke="#000" stroke-width="2.7"/>
<rect x="13" y="66" width="351" height="65" fill="#000"/>
<text x="188.7" y="86.3" font-size="16.2" fill="#f2f2f2" text-anchor="middle">Named freight forwarder links out to mineral</text>
<text x="188.5" y="104.2" font-size="16.2" fill="#f2f2f2" text-anchor="middle">exploiters and is indirectly connected to UN</text>
<text x="188.5" y="122.5" font-size="16.2" fill="#f2f2f2" text-anchor="middle">sanctioned conflict mineral exporter</text>
<rect x="479.5" y="49.5" width="278" height="163" fill="none" stroke="#000" stroke-width="3"/>
<rect x="478" y="48" width="281" height="28" fill="#000"/>
<text x="618.5" y="68.5" font-size="15.5" fill="#f2f2f2" text-anchor="middle">Asian shippers and consignees</text>
<rect x="468.5" y="268.1" width="155.2" height="56" fill="none" stroke="#a20008" stroke-width="2.6"/>
<rect x="467" y="295.3" width="158" height="30.7" fill="#a20008"/>
<text x="546" y="318.3" font-size="15.8" fill="#f2f2f2" text-anchor="middle" textLength="127.5" lengthAdjust="spacingAndGlyphs">11 tons, 3 seizures</text>
<rect x="688.5" y="222.5" width="181" height="207" fill="none" stroke="#000" stroke-width="3"/>
<rect x="687" y="366" width="183.3" height="65.8" fill="#000"/>
<text x="779" y="387" font-size="16" fill="#f2f2f2" text-anchor="middle" textLength="141" lengthAdjust="spacingAndGlyphs">Shipping businesses</text>
<text x="779" y="404.1" font-size="16" fill="#f2f2f2" text-anchor="middle" textLength="140" lengthAdjust="spacingAndGlyphs">owned by Tanzanian</text>
<text x="779" y="424" font-size="16" fill="#f2f2f2" text-anchor="middle">politician</text>
<rect x="369.5" y="382.3" width="295.5" height="59.5" fill="none" stroke="#000" stroke-width="3"/>
<rect x="368" y="416.5" width="298.5" height="26.5" fill="#000"/>
<text x="518" y="436.3" font-size="16" fill="#f2f2f2" text-anchor="middle" textLength="181" lengthAdjust="spacingAndGlyphs">Tanzanian customs agents</text>
</svg>
<svg class="crisp" width="886" height="581" viewBox="0 0 886 581">
<text x="9.5" y="24.7" font-size="21.5" font-weight="bold" fill="#141414" stroke="#141414" stroke-width="0.55" letter-spacing="0.9" textLength="403" lengthAdjust="spacingAndGlyphs">Figure 3.4: Central African Conflict Zone Sourcing</text>
<text x="20.2" y="482.6" font-size="8.8" font-weight="bold" fill="#383838" letter-spacing="1.6" textLength="108.5" lengthAdjust="spacingAndGlyphs">ANALYSIS POWERED BY</text>
<ellipse cx="30.2" cy="500.2" rx="7.9" ry="7.4" fill="none" stroke="#111" stroke-width="2.7"/>
<path d="M21.6,510.3 L30.2,515 L38.8,510.3" fill="none" stroke="#111" stroke-width="2.7"/>
<text x="46.6" y="512.7" font-size="27.5" fill="#111" stroke="#111" stroke-width="0.45" textLength="79.5" lengthAdjust="spacingAndGlyphs">Palantir</text>
<text x="25" y="563.7" font-size="17.6" font-style="italic" fill="#6a6a72" stroke="#6a6a72" stroke-width="0.25" font-family="Liberation Serif, serif" textLength="766" lengthAdjust="spacingAndGlyphs">Source: open source reporting; Kenya and Tanzania corporate registries, court records, and official gazettes</text>
</svg></body></html>
